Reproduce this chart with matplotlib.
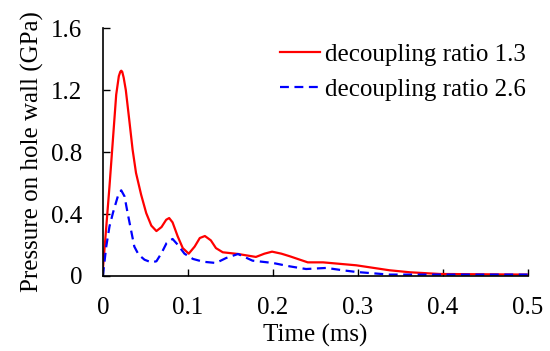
import matplotlib
matplotlib.use("Agg")
import matplotlib.pyplot as plt

# time (ms) and wall pressure (GPa) for the two decoupling ratios
t_13 = [0.0, 0.0078, 0.0157, 0.0188, 0.0205, 0.0216, 0.0228, 0.0245, 0.027, 0.031,
        0.035, 0.039, 0.045, 0.051, 0.057, 0.063, 0.069, 0.0745, 0.078, 0.082,
        0.088, 0.094, 0.101, 0.108, 0.114, 0.120, 0.127, 0.133, 0.141, 0.159,
        0.180, 0.190, 0.199, 0.210, 0.220, 0.241, 0.259, 0.298, 0.337, 0.361,
        0.396, 0.500]
p_13 = [0.04, 0.578, 1.17, 1.29, 1.318, 1.325, 1.318, 1.28, 1.20, 1.01,
        0.815, 0.665, 0.525, 0.406, 0.325, 0.29, 0.316, 0.363, 0.374, 0.346,
        0.256, 0.18, 0.144, 0.19, 0.245, 0.258, 0.23, 0.18, 0.153, 0.142,
        0.123, 0.144, 0.157, 0.144, 0.127, 0.088, 0.088, 0.069, 0.037, 0.024,
        0.013, 0.009]

t_26 = [0.0, 0.004, 0.0078, 0.012, 0.0176, 0.0216, 0.0255, 0.029, 0.033, 0.037,
        0.042, 0.049, 0.057, 0.063, 0.069, 0.075, 0.082, 0.088, 0.096, 0.106,
        0.118, 0.133, 0.145, 0.159, 0.176, 0.200, 0.220, 0.239, 0.263, 0.282,
        0.298, 0.337, 0.500]
p_26 = [0.0, 0.19, 0.32, 0.41, 0.514, 0.553, 0.514, 0.41, 0.30, 0.19,
        0.138, 0.105, 0.088, 0.095, 0.148, 0.213, 0.239, 0.202, 0.144, 0.11,
        0.092, 0.084, 0.116, 0.142, 0.099, 0.084, 0.062, 0.045, 0.052, 0.037,
        0.026, 0.009, 0.009]

x_ticks = [0, 0.1, 0.2, 0.3, 0.4, 0.5]
x_tick_labels = ["0", "0.1", "0.2", "0.3", "0.4", "0.5"]
y_ticks = [0, 0.4, 0.8, 1.2, 1.6]
y_tick_labels = ["0", "0.4", "0.8", "1.2", "1.6"]

plt.rcParams["font.family"] = ["Liberation Serif", "DejaVu Serif"]

fig = plt.figure(figsize=(5.5, 3.51), dpi=100)
ax = fig.add_axes([0.187, 0.2137, 0.773, 0.7063])

ax.plot(t_13, p_13, color="#ff0000", lw=1.6, label="decoupling ratio 1.3")
ax.plot(t_26, p_26, color="#0000ff", lw=1.6, dashes=(4, 2.5),
        label="decoupling ratio 2.6")

ax.set_xlim(0, 0.5)
ax.set_ylim(0, 1.6)
ax.set_xticks(x_ticks)
ax.set_xticklabels(x_tick_labels)
ax.set_yticks(y_ticks)
ax.set_yticklabels(y_tick_labels)
ax.tick_params(direction="in", length=5, width=1, labelsize=18)
ax.tick_params(axis="x", pad=15)
ax.tick_params(axis="y", pad=15)
for side in ("top", "right"):
    ax.spines[side].set_visible(False)
for side in ("left", "bottom"):
    ax.spines[side].set_linewidth(1.2)

ax.set_xlabel("Time (ms)", fontsize=18, labelpad=4)
ax.set_ylabel("Pressure on hole wall (GPa)", fontsize=18, labelpad=5)

ax.legend(loc="upper right", bbox_to_anchor=(1.03, 1.0), frameon=False,
          fontsize=18, handlelength=1.6, handletextpad=0.2, labelspacing=0.5,
          borderaxespad=0.2)

fig.savefig("out.png", dpi=100)
